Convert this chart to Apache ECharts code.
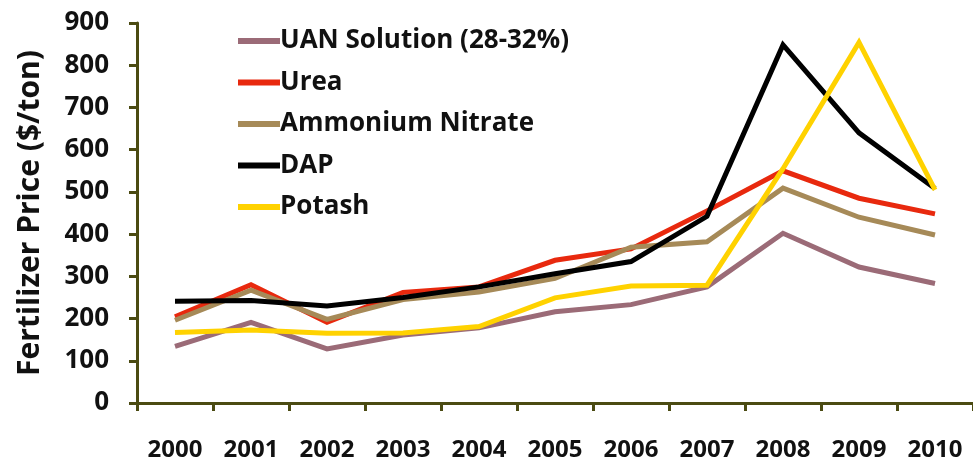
<!DOCTYPE html>
<html>
<head>
<meta charset="utf-8">
<script src="https://cdn.jsdelivr.net/npm/echarts@6/dist/echarts.min.js"></script>
<style>
  html, body { margin: 0; padding: 0; background: #fff; }
  #chart { width: 973px; height: 462px; }
</style>
</head>
<body>
<div id="chart"></div>
<script>
const years = ["2000", "2001", "2002", "2003", "2004", "2005", "2006", "2007", "2008", "2009", "2010"];
const uan = [134, 191, 128, 161, 178, 216, 233, 275, 402, 322, 283];
const urea = [204, 280, 191, 262, 275, 338, 365, 455, 550, 485, 448];
const ammoniumNitrate = [196, 267, 198, 245, 263, 295, 369, 382, 509, 440, 398];
const dap = [241, 243, 230, 250, 275, 306, 335, 442, 848, 640, 508];
const potash = [167, 173, 165, 166, 181, 249, 277, 279, 555, 854, 505];

const axisColor = "#4b4b12";
const font = "Open Sans";

const chart = echarts.init(document.getElementById("chart"));

function line(name, data, color) {
  return {
    name: name,
    type: "line",
    data: data,
    symbol: "none",
    lineStyle: { color: color, width: 5, join: "miter" },
    itemStyle: { color: color },
  };
}

chart.setOption({
  animation: false,
  textStyle: { fontFamily: font },
  grid: { left: 137, right: -11, top: 23, bottom: 57 },
  legend: {
    orient: "vertical",
    left: 233,
    top: 23,
    itemWidth: 42,
    itemHeight: 6,
    itemGap: 15.5,
    icon: "rect",
    textStyle: {
      fontFamily: font, fontWeight: "bold", fontSize: 26, lineHeight: 26,
      color: "#111", padding: [0, 0, 0, -5],
    },
  },
  xAxis: {
    type: "category",
    data: years,
    boundaryGap: true,
    axisLine: { lineStyle: { color: axisColor, width: 3 } },
    axisTick: { show: true, length: 8, lineStyle: { color: axisColor, width: 3 } },
    axisLabel: { fontFamily: font, fontWeight: "bold", fontSize: 24, color: "#111", margin: 35 },
  },
  yAxis: {
    type: "value",
    min: 0,
    max: 900,
    interval: 100,
    name: "Fertilizer Price ($/ton)",
    nameLocation: "middle",
    nameGap: 92,
    nameTextStyle: { fontFamily: font, fontWeight: "bold", fontSize: 30, color: "#111" },
    splitLine: { show: false },
    axisLine: { show: true, lineStyle: { color: axisColor, width: 3 } },
    axisTick: { show: true, length: 8, lineStyle: { color: axisColor, width: 3 } },
    axisLabel: { fontFamily: font, fontWeight: "bold", fontSize: 26, color: "#111", margin: 28 },
  },
  series: [
    line("UAN Solution (28-32%)", uan, "#9b6b77"),
    line("Urea", urea, "#e8290e"),
    line("Ammonium Nitrate", ammoniumNitrate, "#a68a58"),
    line("DAP", dap, "#000000"),
    line("Potash", potash, "#ffd200"),
  ],
});
</script>
</body>
</html>
